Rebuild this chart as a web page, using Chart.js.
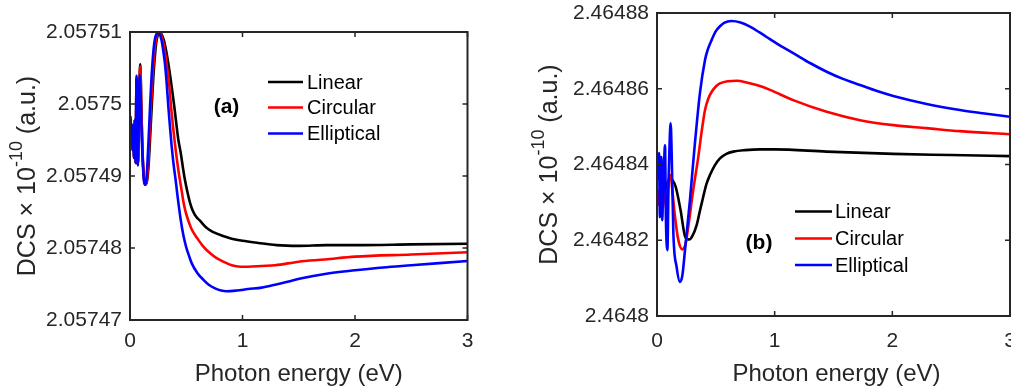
<!DOCTYPE html>
<html><head><meta charset="utf-8">
<script src="https://cdn.jsdelivr.net/npm/chart.js@4.4.1/dist/chart.umd.min.js"></script>
<style>
html,body{margin:0;padding:0;background:#fff;width:1011px;height:389px;overflow:hidden}
#wa{position:absolute;left:0;top:0;width:505px;height:389px}
#wb{position:absolute;left:515px;top:0;width:496px;height:389px}
</style></head><body>
<div id="wa"><canvas id="ca"></canvas></div>
<div id="wb"><canvas id="cb"></canvas></div>
<script>
// ---------- tick values & labels ----------
const xTicks = [0, 1, 2, 3];
const xTickLabels = ['0', '1', '2', '3'];
const aYTicks = [2.05747, 2.05748, 2.05749, 2.0575, 2.05751];
const aYTickLabels = ['2.05747', '2.05748', '2.05749', '2.0575', '2.05751'];
const bYTicks = [2.4648, 2.46482, 2.46484, 2.46486, 2.46488];
const bYTickLabels = ['2.4648', '2.46482', '2.46484', '2.46486', '2.46488'];
const seriesNames = ['Linear', 'Circular', 'Elliptical'];

// ---------- panel (a) ----------
const aLinearX = [0, 0.006, 0.012, 0.018, 0.024, 0.030, 0.036, 0.043, 0.050, 0.058, 0.064, 0.070, 0.078, 0.085, 0.092, 0.100, 0.110, 0.122,
  0.135, 0.152, 0.167, 0.18, 0.193, 0.207, 0.222, 0.237, 0.25, 0.26,
  0.28, 0.3, 0.32, 0.34, 0.36, 0.38, 0.394, 0.41, 0.43, 0.45,
  0.474, 0.489, 0.51, 0.533, 0.56, 0.59, 0.622, 0.68, 0.741, 0.82,
  0.904, 1.0, 1.14, 1.3, 1.5, 1.75, 2.0, 2.5, 3.0];
const aLinearY = [2.0574983, 2.0574975, 2.057495, 2.0574971, 2.0574936, 2.0574964, 2.0574925, 2.0574978, 2.0574918, 2.0575035, 2.057495, 2.0574915, 2.0574978, 2.0575035, 2.0575055, 2.0575, 2.057494, 2.05749,
  2.0574888, 2.0574894, 2.0574919, 2.0574957, 2.0574996, 2.0575036, 2.0575068, 2.0575089, 2.0575097, 2.05751,
  2.0575097, 2.0575089, 2.0575075, 2.0575057, 2.0575036, 2.0575013, 2.0574996, 2.0574975, 2.057495, 2.0574933,
  2.0574908, 2.0574894, 2.0574878, 2.0574863, 2.0574851, 2.0574843, 2.0574838, 2.0574828, 2.0574822, 2.0574817,
  2.0574813, 2.057481, 2.0574807, 2.0574804, 2.0574803, 2.0574804, 2.0574804, 2.0574805, 2.0574806];

const aCircularX = [0, 0.006, 0.012, 0.018, 0.024, 0.030, 0.036, 0.043, 0.050, 0.058, 0.064, 0.070, 0.078, 0.085, 0.092, 0.100, 0.110, 0.122,
  0.135, 0.15, 0.162, 0.173, 0.186, 0.2, 0.215, 0.23, 0.243, 0.255,
  0.275, 0.295, 0.315, 0.335, 0.35, 0.365, 0.38, 0.4, 0.415, 0.43,
  0.444, 0.46, 0.474, 0.49, 0.51, 0.53, 0.548, 0.6, 0.652, 0.71,
  0.77, 0.83, 0.904, 0.98, 1.05, 1.17, 1.29, 1.5, 1.733, 2.0, 2.5, 3.0];
const aCircularY = [2.0574983, 2.0574975, 2.057495, 2.0574971, 2.0574936, 2.0574964, 2.0574925, 2.0574978, 2.0574918, 2.0575035, 2.057495, 2.0574915, 2.0574978, 2.0575033, 2.0575052, 2.0574998, 2.057494, 2.05749,
  2.0574888, 2.0574894, 2.0574919, 2.0574953, 2.0574996, 2.0575036, 2.0575068, 2.0575089, 2.0575097, 2.05751,
  2.0575097, 2.0575086, 2.0575068, 2.0575044, 2.0575024, 2.0574996, 2.0574972, 2.0574944, 2.0574925, 2.0574908,
  2.0574894, 2.0574879, 2.0574865, 2.0574853, 2.0574842, 2.0574833, 2.0574826, 2.0574813, 2.0574802, 2.0574793,
  2.0574786, 2.0574781, 2.0574776, 2.0574774, 2.0574774, 2.0574775, 2.0574776, 2.0574781, 2.0574784, 2.0574788, 2.0574791, 2.0574794];

const aEllipticalX = [0, 0.006, 0.012, 0.018, 0.024, 0.030, 0.036, 0.043, 0.050, 0.058, 0.064, 0.070, 0.078, 0.086, 0.094, 0.104, 0.115, 0.125,
  0.135, 0.145, 0.155, 0.165, 0.178, 0.19, 0.205, 0.22, 0.235, 0.25,
  0.265, 0.28, 0.295, 0.31, 0.325, 0.341, 0.355, 0.37, 0.383, 0.394,
  0.406, 0.418, 0.43, 0.45, 0.474, 0.5, 0.525, 0.548, 0.6, 0.652,
  0.7, 0.756, 0.81, 0.859, 0.95, 1.05, 1.17, 1.29, 1.4, 1.526,
  1.733, 2.0, 2.25, 2.5, 2.75, 3.0];
const aEllipticalY = [2.0574983, 2.0574975, 2.057495, 2.0574971, 2.0574936, 2.0574964, 2.0574925, 2.0574978, 2.0574918, 2.0575039, 2.057495, 2.0574915, 2.0574978, 2.057504, 2.0575013, 2.0574957, 2.0574915, 2.0574892,
  2.0574888, 2.0574894, 2.0574918, 2.057495, 2.0574996, 2.0575033, 2.0575068, 2.0575089, 2.0575097, 2.05751,
  2.0575097, 2.0575089, 2.0575075, 2.0575057, 2.0575031, 2.0574996, 2.0574969, 2.0574942, 2.0574922, 2.0574908,
  2.0574894, 2.0574878, 2.0574863, 2.057484, 2.0574818, 2.0574801, 2.0574789, 2.0574779, 2.0574765, 2.0574756,
  2.0574749, 2.0574744, 2.0574741, 2.057474, 2.0574741, 2.0574743, 2.0574745, 2.0574749, 2.0574753, 2.0574758,
  2.0574764, 2.0574769, 2.0574773, 2.0574776, 2.0574779, 2.0574782];

// ---------- panel (b) ----------
const bLinearX = [0, 0.02, 0.04, 0.06, 0.08, 0.1, 0.116, 0.125, 0.159, 0.2, 0.24, 0.275, 0.3, 0.337, 0.365, 0.393, 0.42, 0.45, 0.49, 0.535, 0.59, 0.648, 0.75, 0.875, 1.0, 1.442, 2.008, 2.5, 3.0];
const bLinearY = [2.4648333, 2.4648319, 2.4648338, 2.4648327, 2.4648346, 2.4648359, 2.4648368, 2.4648362, 2.4648341, 2.464828, 2.4648209, 2.4648202, 2.4648211, 2.464824, 2.4648278, 2.4648315, 2.4648348, 2.4648372, 2.4648397, 2.4648416, 2.4648428, 2.4648434, 2.4648438, 2.464844, 2.464844, 2.4648434, 2.4648428, 2.4648425, 2.4648422];

const bCircularX = [0, 0.01, 0.02, 0.03, 0.04, 0.05, 0.06, 0.07, 0.08, 0.09,
  0.1, 0.115, 0.13, 0.153, 0.181, 0.215, 0.24, 0.266, 0.308, 0.351,
  0.38, 0.408, 0.435, 0.465, 0.5, 0.535, 0.6, 0.677, 0.77, 0.875,
  0.96, 1.158, 1.442, 1.725, 2.008, 2.291, 2.574, 3.0];
const bCircularY = [2.4648319, 2.4648293, 2.4648333, 2.464828, 2.4648319, 2.4648293, 2.4648346, 2.4648306, 2.464828, 2.4648319,
  2.4648359, 2.4648372, 2.4648333, 2.4648262, 2.4648201, 2.4648176, 2.4648187, 2.4648236, 2.4648333, 2.464842,
  2.4648488, 2.4648544, 2.4648573, 2.4648592, 2.4648606, 2.4648614, 2.464862, 2.4648621, 2.4648616, 2.4648607,
  2.4648597, 2.464857, 2.4648539, 2.4648517, 2.4648504, 2.4648496, 2.4648488, 2.464848];

const bEllipticalX = [0, 0.008, 0.017, 0.025, 0.031, 0.037, 0.045, 0.052, 0.059, 0.068,
  0.076, 0.088, 0.099, 0.108, 0.116, 0.125, 0.139, 0.167, 0.195, 0.215,
  0.238, 0.28, 0.317, 0.365, 0.408, 0.43, 0.465, 0.5, 0.535, 0.57,
  0.634, 0.71, 0.79, 0.875, 0.96, 1.05, 1.158, 1.3, 1.442, 1.58,
  1.725, 1.87, 2.008, 2.291, 2.574, 2.8, 3.0];
const bEllipticalY = [2.4648359, 2.4648404, 2.464843, 2.4648261, 2.4648385, 2.464842, 2.4648253, 2.4648346, 2.4648393, 2.4648451,
  2.4648253, 2.4648174, 2.4648367, 2.4648465, 2.4648509, 2.4648425, 2.4648219, 2.4648129, 2.464809, 2.4648106,
  2.4648174, 2.4648306, 2.4648438, 2.4648589, 2.4648676, 2.4648702, 2.4648729, 2.4648752, 2.4648765, 2.4648774,
  2.4648779, 2.4648775, 2.4648764, 2.4648748, 2.4648731, 2.4648713, 2.4648694, 2.4648668, 2.4648645, 2.4648626,
  2.464861, 2.4648594, 2.4648581, 2.464856, 2.4648544, 2.4648534, 2.4648526];

// ---------- helpers ----------
const FONT = '"Liberation Sans", Arial, Helvetica, sans-serif';
const AXC = '#262626';
const COLORS = ['#000000', '#ff0000', '#0000ff'];
const pts = (xs, ys) => xs.map((x, i) => ({x: x, y: ys[i]}));

const decor = {
  id: 'decor',
  afterDatasetsDraw(chart, args, o) {
    const ctx = chart.ctx, ca = chart.chartArea;
    const xs = chart.scales.x, ys = chart.scales.y;
    ctx.save();
    ctx.strokeStyle = AXC;
    ctx.lineWidth = 2;
    ctx.strokeRect(ca.left, ca.top, ca.right - ca.left, ca.bottom - ca.top);
    ctx.lineWidth = 1.5;
    ctx.beginPath();
    o.xt.forEach(v => {
      const p = xs.getPixelForValue(v);
      ctx.moveTo(p, ca.bottom); ctx.lineTo(p, ca.bottom - 5);
      ctx.moveTo(p, ca.top); ctx.lineTo(p, ca.top + 5);
    });
    o.yt.forEach(v => {
      const p = ys.getPixelForValue(v);
      ctx.moveTo(ca.left, p); ctx.lineTo(ca.left + 5, p);
      ctx.moveTo(ca.right, p); ctx.lineTo(ca.right - 5, p);
    });
    ctx.stroke();
    ctx.restore();
  },
  afterDraw(chart, args, o) {
    const ctx = chart.ctx, ca = chart.chartArea;
    ctx.save();
    ctx.fillStyle = AXC;
    ctx.font = '24px ' + FONT;
    ctx.textAlign = 'center';
    ctx.textBaseline = 'alphabetic';
    ctx.fillText('Photon energy (eV)', (ca.left + ca.right) / 2 + o.xTitleDx, o.xTitleY);
    ctx.translate(o.yTitleX, (ca.top + ca.bottom) / 2);
    ctx.rotate(-Math.PI / 2);
    ctx.textAlign = 'left';
    const f1 = '25px ' + FONT, f2 = '18px ' + FONT;
    const t0 = 'DCS \u00d7 10', t1 = '-10', t2 = ' (a.u.)';
    ctx.font = f1; const w0 = ctx.measureText(t0).width, w2 = ctx.measureText(t2).width;
    ctx.font = f2; const w1 = ctx.measureText(t1).width;
    let x0 = -(w0 + w1 + w2) / 2;
    ctx.font = f1; ctx.fillText(t0, x0, 0); x0 += w0;
    ctx.font = f2; ctx.fillText(t1, x0, -13); x0 += w1;
    ctx.font = f1; ctx.fillText(t2, x0, 0);
    ctx.restore();
    ctx.save();
    ctx.textBaseline = 'middle';
    ctx.textAlign = 'left';
    ctx.font = '20px ' + FONT;
    seriesNames.forEach((n, i) => {
      const y = o.legY[i];
      ctx.strokeStyle = COLORS[i];
      ctx.lineWidth = 2.5;
      ctx.beginPath(); ctx.moveTo(o.legX0, y); ctx.lineTo(o.legX1, y); ctx.stroke();
      ctx.fillStyle = '#000';
      ctx.fillText(n, o.legTx, y + 1);
    });
    ctx.font = 'bold 21px ' + FONT;
    ctx.textAlign = 'center';
    ctx.fillText(o.panel, o.panelX, o.panelY);
    ctx.restore();
  }
};

function makeChart(id, series, yMin, yMax, yTicks, yTickLabels, lay, deco) {
  const ds = series.map((s, i) => ({
    label: seriesNames[i],
    data: s,
    borderColor: COLORS[i],
    backgroundColor: COLORS[i],
    borderWidth: 2.6,
    pointRadius: 0,
    fill: false,
    cubicInterpolationMode: 'monotone',
    order: 3 - i
  }));
  return new Chart(document.getElementById(id), {
    type: 'line',
    data: {datasets: ds},
    plugins: [decor],
    options: {
      responsive: true,
      maintainAspectRatio: false,
      animation: false,
      devicePixelRatio: 1,
      parsing: false,
      layout: {padding: {top: lay.top, right: lay.right, left: 0, bottom: 0}},
      plugins: {legend: {display: false}, tooltip: {enabled: false}, decor: deco},
      scales: {
        x: {
          type: 'linear', min: 0, max: 3,
          grid: {display: false, drawTicks: false},
          border: {display: false},
          afterBuildTicks: s => { s.ticks = xTicks.map(v => ({value: v})); },
          ticks: {
            padding: lay.xPad, color: AXC, maxRotation: 0, autoSkip: false,
            font: {family: FONT, size: 21},
            callback: (v, i) => xTickLabels[i]
          },
          afterFit: s => { s.height = lay.xH; s.paddingLeft = 0; s.paddingRight = 0; }
        },
        y: {
          type: 'linear', min: yMin, max: yMax,
          grid: {display: false, drawTicks: false},
          border: {display: false},
          afterBuildTicks: s => { s.ticks = yTicks.map(v => ({value: v})); },
          ticks: {
            padding: 8, color: AXC, autoSkip: false,
            font: {family: FONT, size: 21},
            callback: (v, i) => yTickLabels[i]
          },
          afterFit: s => { s.width = lay.yW; s.paddingTop = 0; s.paddingBottom = 0; }
        }
      }
    }
  });
}

makeChart('ca',
  [pts(aLinearX, aLinearY), pts(aCircularX, aCircularY), pts(aEllipticalX, aEllipticalY)],
  2.05747, 2.05751, aYTicks, aYTickLabels,
  {top: 32, right: 37.5, xH: 69, yW: 130, xPad: 9},
  {xt: xTicks, yt: aYTicks, xTitleY: 381, xTitleDx: 0, yTitleX: 35,
   legX0: 268, legX1: 303, legTx: 307, legY: [82, 107.5, 133.5],
   panel: '(a)', panelX: 226.5, panelY: 107.5});

makeChart('cb',
  [pts(bLinearX, bLinearY), pts(bCircularX, bCircularY), pts(bEllipticalX, bEllipticalY)],
  2.4648, 2.46488, bYTicks, bYTickLabels,
  {top: 13, right: 1, xH: 73, yW: 142, xPad: 13},
  {xt: xTicks, yt: bYTicks, xTitleY: 381, xTitleDx: 3, yTitleX: 42,
   legX0: 280, legX1: 317, legTx: 320, legY: [211.5, 238.5, 265],
   panel: '(b)', panelX: 244, panelY: 243});
</script>
</body></html>
